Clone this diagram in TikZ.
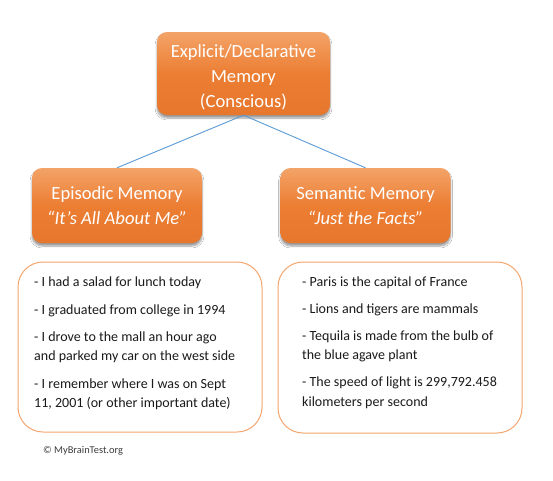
\documentclass[tikz,border=0pt]{standalone}
\usepackage{fontspec}
\setmainfont{Carlito}
\usetikzlibrary{shadows.blur}
\definecolor{orgtop}{HTML}{F3A368}
\definecolor{orgmid}{HTML}{EC7E33}
\definecolor{orgbot}{HTML}{E6772D}
\definecolor{lborder}{HTML}{F4A56E}
\definecolor{conncol}{HTML}{5B9BD5}
\definecolor{txt}{HTML}{1A1A1A}
\tikzset{
  obox/.style={rectangle, rounded corners=10pt, top color=orgtop, bottom color=orgbot, middle color=orgmid,
    draw=none, text=white, align=center, font=\fontsize{18.6}{25}\selectfont, inner sep=0pt,
    blur shadow={shadow blur steps=6, shadow xshift=0pt, shadow yshift=-3pt, shadow opacity=40}},
  otext/.style={text=white, align=center, font=\fontsize{18.6}{25}\selectfont, inner sep=0pt},
  lbox/.style={rectangle, rounded corners=25pt, draw=lborder, line width=1pt, fill=white, inner sep=0pt},
  ltext/.style={anchor=north west, align=left, inner sep=0pt, text=txt, font=\fontsize{14}{19.5}\selectfont},
  conn/.style={draw=conncol, line width=0.9pt}
}
\begin{document}
\begin{tikzpicture}[x=1pt,y=-1pt]
\useasboundingbox[fill=white] (0,0) rectangle (553,480);
\node[obox, minimum width=173pt, minimum height=83pt] (exp) at (243.5,73.5) {};
\node[otext] (exptext) at (243.5,77) {Explicit/Declarative\\Memory\\(Conscious)};
\node[obox, minimum width=170pt, minimum height=75pt] (epi) at (117,205.5) {Episodic Memory\\\textit{“It’s All About Me”}};
\node[obox, minimum width=170pt, minimum height=75pt] (sem) at (365.5,205.5) {Semantic Memory\\\textit{“Just the Facts”}};
\draw[conn] (exp.south) -- (epi.north);
\draw[conn] (exp.south) -- (sem.north);
\node[lbox, minimum width=244pt, minimum height=170pt] (epilist) at (140,347) {};
\node[lbox, minimum width=244pt, minimum height=171pt] (semlist) at (400,347.5) {};
\node[ltext] (epitext) at (34,277) {- I had a salad for lunch today\\[8pt]
- I graduated from college in 1994\\[7.5pt]
- I drove to the mall an hour ago\\and parked my car on the west side\\[8pt]
- I remember where I was on Sept\\11, 2001 (or other important date)};
\node[ltext] (semtext) at (302,277) {- Paris is the capital of France\\[7pt]
- Lions and tigers are mammals\\[7.5pt]
- Tequila is made from the bulb of\\the blue agave plant\\[7.5pt]
- The speed of light is 299,792.458\\kilometers per second};
\node[anchor=west, inner sep=0pt, text=txt!85, font=\fontsize{10.4}{12}\selectfont] (copy) at (43,451) {© MyBrainTest.org};
\end{tikzpicture}
\end{document}
